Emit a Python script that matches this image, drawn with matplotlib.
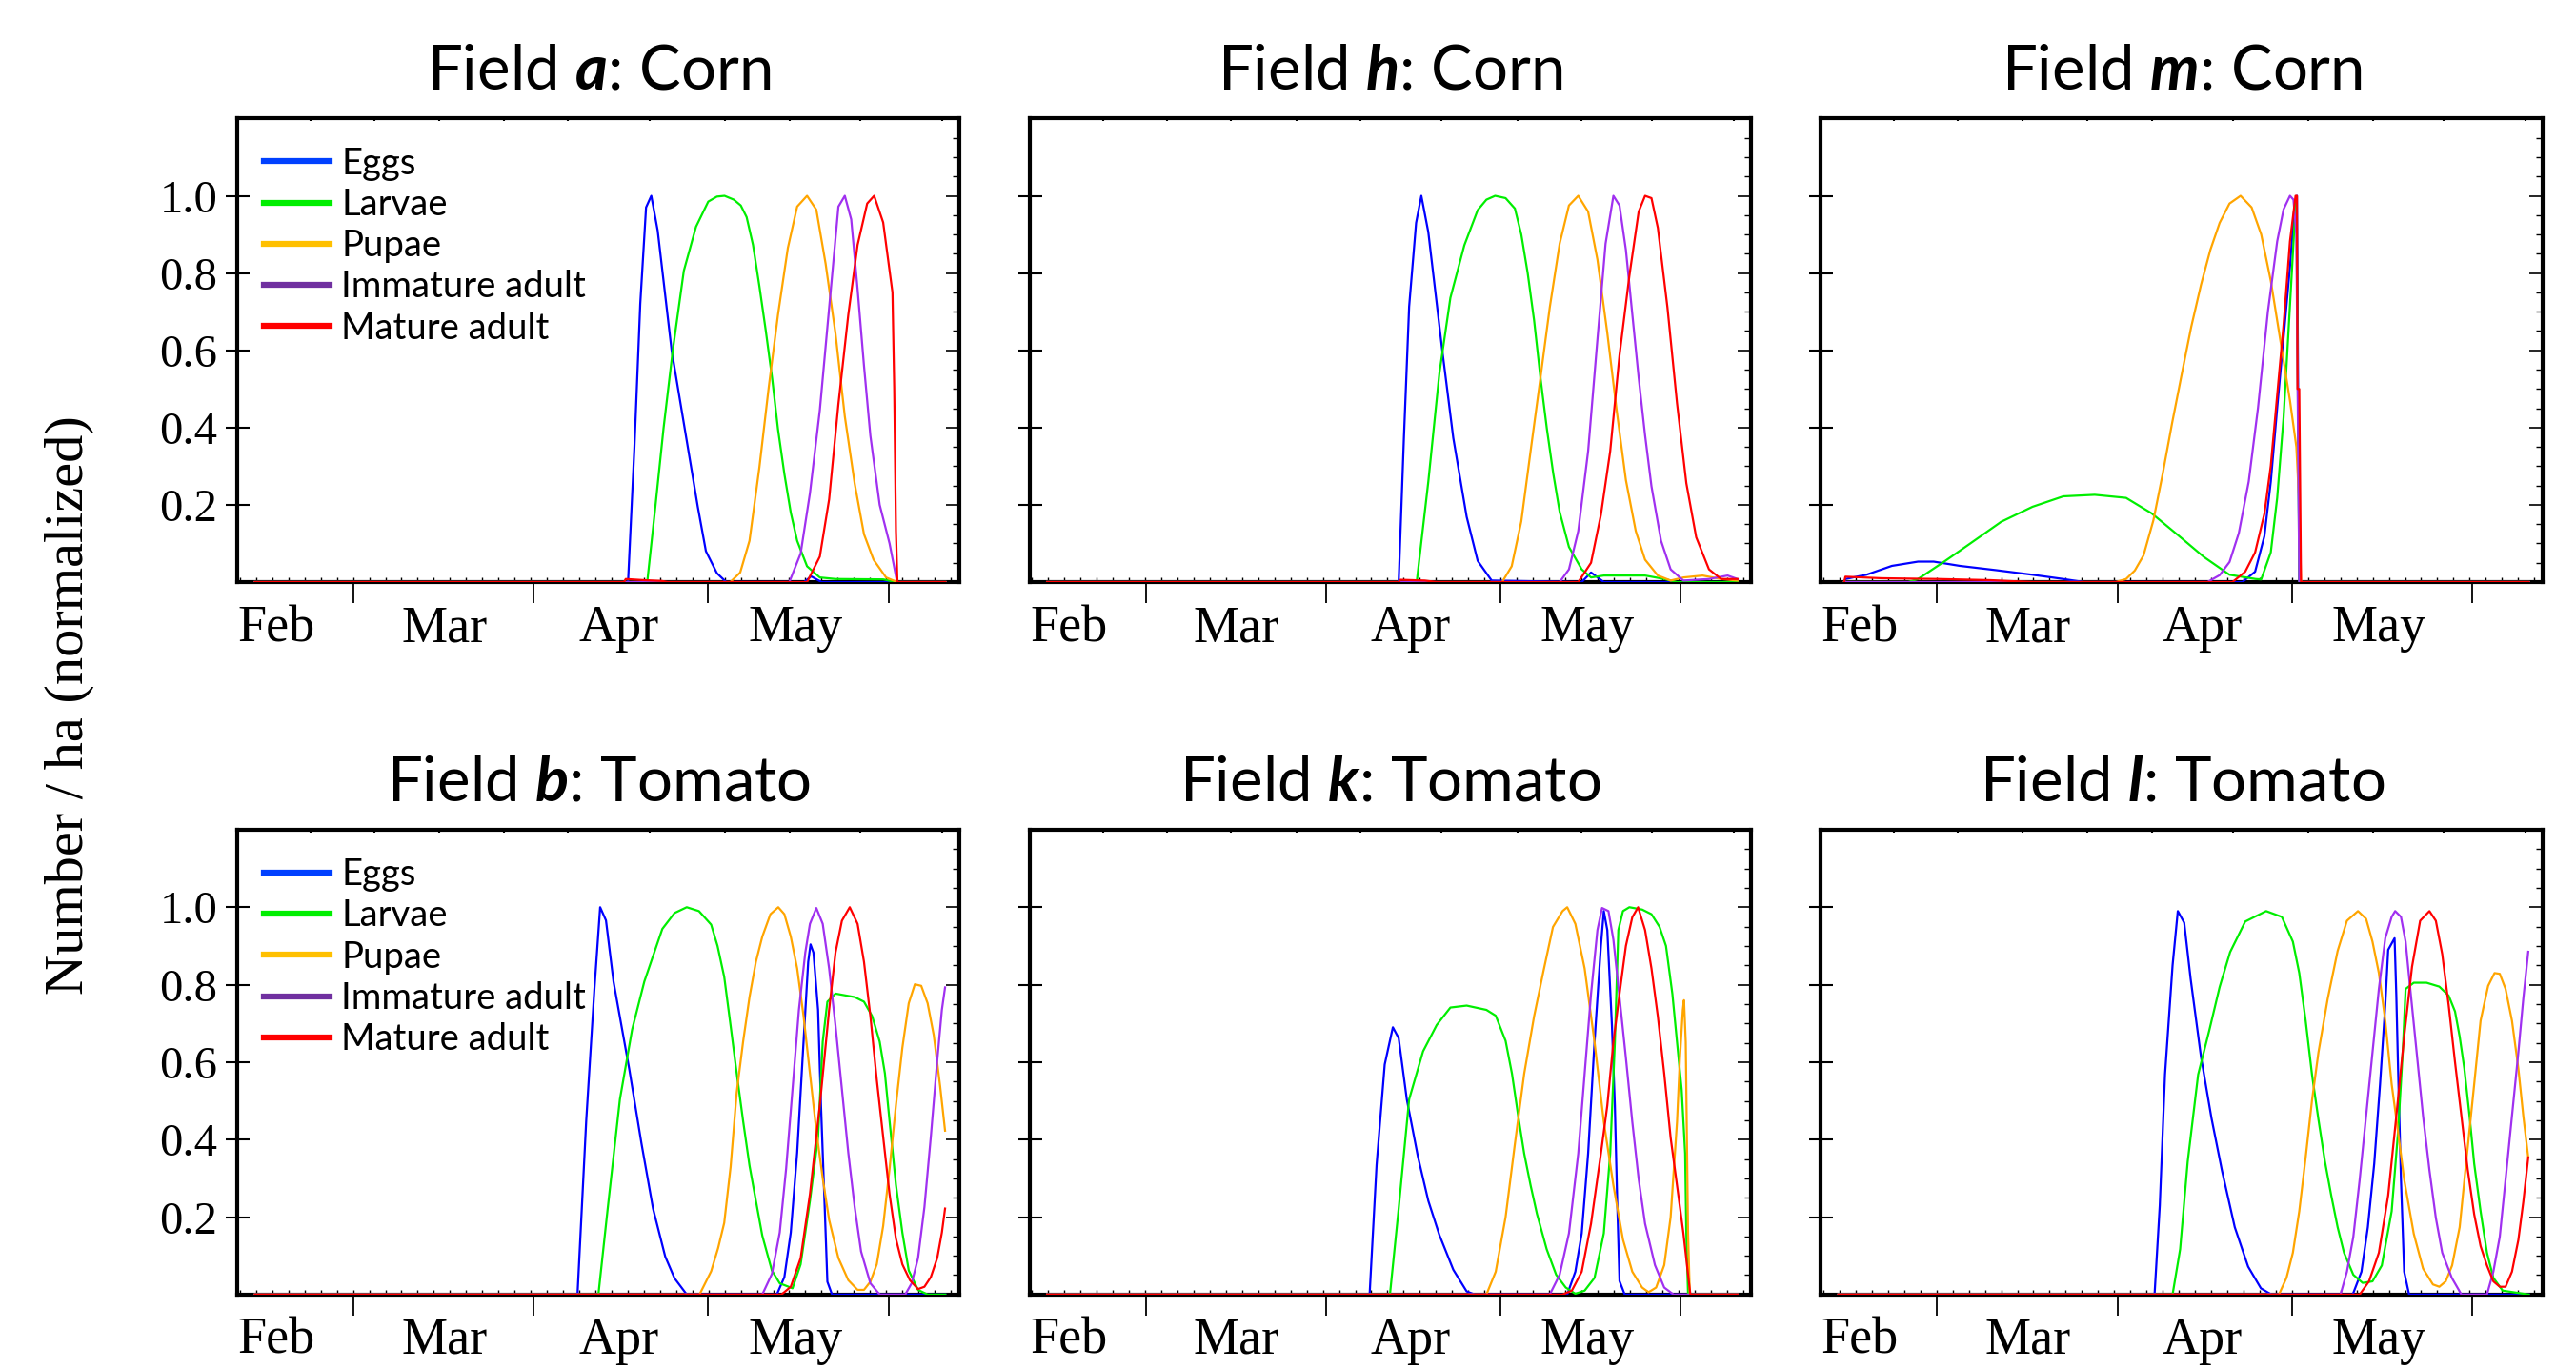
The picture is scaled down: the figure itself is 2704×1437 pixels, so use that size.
#! /usr/bin/env python3
import numpy as np
import matplotlib
matplotlib.use('Agg')
import matplotlib.pyplot as plt
from matplotlib.lines import Line2D
from matplotlib.ticker import MultipleLocator

plt.rcParams['font.family'] = 'Lato'
plt.rcParams['mathtext.fontset'] = 'custom'
plt.rcParams['mathtext.rm'] = 'Lato'
plt.rcParams['mathtext.bfit'] = 'Lato:italic:bold'

stages = ['Eggs', 'Larvae', 'Pupae', 'Immature adult', 'Mature adult']
lineColors = ['#0000ff', '#00ee00', '#ffa500', '#a030f0', '#ff0000']
legendColors = ['#0040ff', '#00ee00', '#ffc000', '#7030a0', '#ff0000']

# x axis in day of year
months = ['Feb', 'Mar', 'Apr', 'May']
monthMidDays = [46.7, 75.6, 105.6, 136.0]
monthStartDays = [60, 91, 121, 152]
topDotDays = [52.6, 63.6, 74.7, 85.9, 96.9, 110.9, 123.9, 135.0, 147.1, 161.2]
yTicks = [0.2, 0.4, 0.6, 0.8, 1.0]

#############################################
## Field a: Corn  (day, normalized number/ha)
A_EGGS = [(43,0),(107.2,0),(108.3,0.35),(109.3,0.72),(110.3,0.97),(111.2,1.0),(112.3,0.91),(114.7,0.6),
          (117.2,0.375),(119.2,0.195),(120.6,0.08),(122.5,0.023),(124.1,0),(137.5,0),(138.7,0.015),(140.5,0),(161.8,0)]
A_LARVAE = [(43,0),(110.5,0),(111.9,0.195),(113.3,0.397),(114.9,0.6),(116.8,0.806),(118.9,0.92),(121,0.985),(122.5,0.998),
            (123.8,1.0),(125.4,0.99),(126.6,0.975),(127.6,0.945),(128.7,0.873),(129.8,0.766),(130.9,0.651),(132,0.527),
            (133,0.396),(134.1,0.28),(135.2,0.18),(136.3,0.107),(138,0.041),(140.2,0.012),(142.9,0.008),(151.1,0.007),
            (153.3,0),(161.8,0)]
A_PUPAE = [(43,0),(124.8,0),(126.5,0.025),(128.1,0.107),(129.8,0.297),(131.4,0.503),(133,0.692),(134.7,0.865),(136.3,0.972),
           (138,1.0),(139.6,0.964),(141.2,0.824),(142.9,0.643),(144.5,0.429),(146.2,0.255),(147.8,0.124),(149.45,0.058),
           (151.6,0.012),(153.5,0),(161.8,0)]
A_IMMATURE = [(43,0),(134.95,0),(136.9,0.074),(138.5,0.23),(140.2,0.445),(141.8,0.709),(143.4,0.972),(144.5,1.0),(145.6,0.939),
              (146.7,0.758),(147.8,0.56),(148.9,0.379),(150.5,0.2),(152.2,0.1),(153.5,0),(161.8,0)]
A_MATURE = [(43,0),(106.5,0),(106.8,0.008),(110,0.005),(113,0.003),(114,0),(138,0),(140.2,0.066),(141.8,0.214),(143.4,0.461),
            (145.1,0.692),(146.7,0.873),(148.35,0.98),(149.55,1.0),(151.1,0.931),(152.7,0.75),(153.0,0.503),(153.3,0.132),
            (153.55,0),(161.8,0)]

## Field h: Corn
H_EGGS = [(43,0),(103.5,0),(104.4,0.373),(105.3,0.713),(106.5,0.93),(107.4,1.0),(108.6,0.906),(111.0,0.6),(112.9,0.373),
          (115.2,0.169),(117.1,0.055),(119.5,0.004),(135,0),(136.6,0.025),(138.8,0),(161.8,0)]
H_LARVAE = [(43,0),(106.6,0),(108.6,0.26),(110.5,0.54),(112.4,0.736),(114.8,0.872),(117.1,0.963),(118.6,0.99),(120.1,1.0),
            (121.9,0.994),(123.5,0.967),(124.6,0.9),(125.7,0.8),(126.8,0.678),(127.9,0.529),(129,0.397),(130.1,0.281),
            (131.2,0.182),(132.8,0.091),(135,0.033),(136.6,0.012),(138.8,0.017),(145.9,0.017),(149.2,0.008),(151.4,0),(161.8,0)]
H_PUPAE = [(43,0),(121.3,0),(122.95,0.041),(124.6,0.157),(126.2,0.339),(127.9,0.529),(129.5,0.711),(131.2,0.876),(132.8,0.975),
           (134.4,1.0),(136.1,0.959),(137.7,0.835),(139.4,0.645),(141,0.446),(142.6,0.264),(144.3,0.132),(145.9,0.058),
           (148.1,0.017),(150.3,0.004),(152.5,0.012),(155.8,0.017),(159,0.008),(161.8,0.004)]
H_IMMATURE = [(43,0),(131.2,0),(132.8,0.033),(134.4,0.132),(136.1,0.339),(137.7,0.628),(139.1,0.876),(140.45,1.0),(141.5,0.975),
              (142.6,0.86),(143.7,0.694),(144.8,0.529),(145.9,0.38),(147,0.248),(148.65,0.107),(150.3,0.033),(152.5,0.004),
              (156.9,0.008),(160.1,0.017),(161.8,0.008)]
H_MATURE = [(43,0),(103.5,0),(103.8,0.006),(108,0.004),(110,0),(134.4,0),(136.6,0.05),(138.3,0.174),(139.9,0.339),(141.5,0.587),
            (143.2,0.793),(144.8,0.959),(145.9,1.0),(147,0.994),(148.1,0.917),(149.75,0.711),(151.4,0.463),(153,0.256),
            (154.7,0.116),(156.9,0.033),(159,0.008),(161.8,0.008)]

## Field m: Corn
M_EGGS = [(44,0),(44.2,0.008),(47.8,0.019),(52.2,0.042),(56.7,0.053),(59.4,0.053),(63.9,0.042),(70.1,0.031),(76.4,0.019),
          (81.7,0.008),(85.3,0),(112.5,0),(114.7,0.027),(116.3,0.119),(117.4,0.26),(118.5,0.451),(119.6,0.633),(120.7,0.816),
          (121.5,0.98),(121.9,1.0),(122.3,0),(161.8,0)]
M_LARVAE = [(44,0),(55,0),(56.7,0.008),(61.2,0.053),(65.6,0.099),(71,0.156),(76.4,0.195),(81.7,0.222),(87.1,0.226),(92.5,0.218),
            (96.9,0.178),(101.4,0.122),(105.9,0.065),(110.3,0.019),(114.8,0.008),(115.75,0.007),(117.4,0.077),(118.5,0.218),
            (119.6,0.426),(120.7,0.716),(121.5,0.932),(121.8,0.997),(122.3,0),(161.8,0)]
M_PUPAE = [(44,0),(90.7,0),(92.5,0.008),(94,0.03),(95.5,0.069),(97.2,0.16),(98.8,0.28),(100.4,0.41),(102.1,0.54),(103.7,0.66),
           (105.4,0.77),(107,0.86),(108.6,0.93),(110.3,0.98),(112.2,1.0),(114.1,0.97),(115.75,0.9),(117.4,0.78),(119,0.63),
           (120.7,0.47),(121.8,0.35),(122.3,0.2),(122.6,0),(161.8,0)]
M_IMMATURE = [(44,0),(106.5,0),(108.6,0.018),(110.3,0.052),(111.9,0.127),(113.6,0.26),(115.2,0.451),(116.9,0.7),(118.5,0.882),
              (119.6,0.965),(120.7,1.0),(121.3,0.99),(121.8,0.9),(122.3,0),(161.8,0)]
M_MATURE = [(44,0),(44.2,0.014),(50.4,0.01),(60.2,0.008),(69.2,0.005),(76.4,0),(110.8,0),(113,0.027),(114.7,0.077),(116.3,0.177),
            (117.4,0.301),(118.5,0.484),(119.6,0.666),(120.7,0.882),(121.66,1.0),(121.9,1.0),(122.0,0.5),(122.3,0.5),
            (122.6,0),(161.8,0)]

## Field b: Tomato
B_EGGS = [(43,0),(98.5,0),(100,0.448),(101.4,0.786),(102.4,1.0),(103.4,0.966),(104.7,0.808),(107.4,0.583),(109.5,0.391),
          (111.5,0.222),(113.6,0.098),(115.2,0.042),(117.3,0),(132.8,0),(134.1,0.045),(135.2,0.16),(136.3,0.366),(137.4,0.653),
          (138.2,0.859),(138.6,0.904),(139.1,0.883),(139.9,0.735),(140.4,0.489),(141,0.242),(141.5,0.033),(142.3,0),(161.8,0)]
B_LARVAE = [(43,0),(102.1,0),(103.7,0.222),(105.8,0.504),(107.9,0.684),(110,0.808),(113.1,0.944),(115.2,0.985),(117.3,1.0),
            (119.4,0.99),(121.5,0.955),(122.6,0.9),(123.75,0.82),(124.85,0.694),(125.9,0.571),(127,0.448),(128.1,0.333),
            (129.2,0.242),(130.3,0.152),(131.95,0.062),(133.3,0.029),(135.5,0.016),(136.9,0.078),(138.5,0.242),(139.9,0.407),
            (140.7,0.653),(141.5,0.756),(142.9,0.777),(146.2,0.768),(147.8,0.756),(149.2,0.719),(150.5,0.653),(151.4,0.571),
            (152.2,0.448),(153.3,0.283),(154.4,0.16),(155.5,0.062),(157.1,0.012),(158.75,0),(161.8,0)]
B_PUPAE = [(43,0),(119.5,0),(121.5,0.06),(122.7,0.12),(123.75,0.185),(124.85,0.33),(125.9,0.522),(127,0.653),(128.1,0.768),
           (129.2,0.859),(130.3,0.924),(131.7,0.982),(133.05,1.0),(134.1,0.982),(135.2,0.924),(136.3,0.842),(137.4,0.719),
           (138.5,0.571),(139.6,0.423),(140.7,0.3),(141.8,0.193),(143.4,0.094),(145.1,0.037),(146.7,0.012),(147.8,0.012),
           (148.9,0.033),(150,0.078),(151.1,0.177),(152.2,0.325),(153.3,0.489),(154.4,0.637),(155.5,0.752),(156.55,0.801),
           (157.65,0.797),(158.75,0.752),(159.8,0.67),(160.9,0.538),(161.75,0.423)]
B_IMMATURE = [(43,0),(130.3,0),(131.95,0.053),(133.3,0.16),(134.4,0.325),(135.5,0.53),(136.6,0.735),(137.7,0.883),(138.5,0.957),
              (139.6,0.998),(140.7,0.957),(141.8,0.842),(142.9,0.694),(144,0.53),(145.1,0.366),(146.2,0.226),(147.3,0.111),
              (148.9,0.029),(150.5,0),(154.9,0),(156,0.029),(157.1,0.094),(158.2,0.226),(159.3,0.407),(160.4,0.604),
              (161.2,0.735),(161.75,0.793)]
B_MATURE = [(43,0),(133.6,0),(135.2,0.02),(136.9,0.094),(138.5,0.259),(140.2,0.489),(141.8,0.735),(142.9,0.883),(144,0.965),
            (145.35,1.0),(146.7,0.957),(147.8,0.859),(148.9,0.719),(150,0.555),(151.1,0.407),(152.2,0.259),(153.3,0.144),
            (154.4,0.078),(155.7,0.037),(157.1,0.014),(158.2,0.02),(159.3,0.045),(160.4,0.094),(161.2,0.16),(161.75,0.222)]

## Field k: Tomato
K_EGGS = [(43,0),(98.5,0),(99.7,0.335),(101.1,0.594),(102.5,0.69),(103.5,0.662),(104.9,0.504),(106.8,0.357),(108.6,0.242),
          (110.5,0.154),(112.9,0.064),(115.2,0.008),(116.6,0),(132.5,0),(133.9,0.059),(135,0.158),(136.1,0.364),(137.2,0.652),
          (138.3,0.9),(138.8,0.99),(139.4,0.941),(140.2,0.694),(140.7,0.488),(141.1,0.241),(141.5,0.035),(142.4,0),(161.8,0)]
K_LARVAE = [(43,0),(102,0),(103.5,0.222),(105.3,0.504),(107.7,0.628),(110.05,0.696),(112.4,0.741),(115.2,0.746),(118.6,0.735),
            (120.2,0.72),(121.9,0.655),(123,0.57),(124.05,0.463),(125.1,0.364),(126.2,0.282),(127.3,0.208),(128.97,0.117),
            (130.6,0.051),(132.25,0.018),(133.9,0.002),(135.5,0.01),(137.2,0.043),(138.8,0.158),(139.9,0.364),(140.7,0.652),
            (141.3,0.941),(142.1,0.99),(143.2,1.0),(145.4,0.994),(147,0.982),(148.4,0.949),(149.5,0.9),(150.6,0.776),
            (151.4,0.652),(152.2,0.529),(152.8,0.364),(153.0,0.158),(153.3,0),(161.8,0)]
K_PUPAE = [(43,0),(118.6,0),(120.2,0.059),(121.9,0.2),(123.5,0.389),(125.1,0.57),(126.8,0.718),(128.4,0.834),(130.05,0.949),
           (131.7,0.99),(132.5,1.0),(133.9,0.957),(135.5,0.842),(137.2,0.652),(138.8,0.446),(140.45,0.282),(142.1,0.142),
           (143.7,0.059),(145.4,0.018),(146.5,0.006),(147.8,0.018),(149.2,0.076),(150.3,0.2),(151.4,0.446),(151.9,0.611),
           (152.4,0.735),(152.6,0.76),(152.9,0.652),(153.3,0.158),(153.6,0),(161.8,0)]
K_IMMATURE = [(43,0),(129.5,0),(131.2,0.051),(132.8,0.158),(134.4,0.364),(135.5,0.57),(136.6,0.776),(137.7,0.941),(138.5,0.998),
              (139.6,0.99),(140.45,0.916),(141.5,0.768),(142.6,0.611),(143.7,0.446),(144.8,0.298),(145.9,0.183),(147.6,0.076),
              (149.2,0.018),(150.8,0),(161.8,0)]
K_MATURE = [(43,0),(131.7,0),(133.3,0.01),(135,0.059),(136.6,0.183),(138.3,0.364),(139.4,0.488),(140.45,0.652),(141.5,0.776),
            (142.6,0.9),(143.7,0.974),(144.7,1.0),(145.9,0.941),(147,0.842),(148.1,0.718),(149.2,0.57),(150.3,0.405),
            (151.4,0.282),(152.5,0.158),(153.3,0.051),(153.7,0),(161.8,0)]

## Field l: Tomato
L_EGGS = [(43,0),(97.4,0),(98.3,0.23),(99.2,0.568),(100.5,0.85),(101.4,0.99),(102.5,0.96),(103.6,0.816),(105.4,0.613),
          (107.2,0.455),(109,0.32),(111.2,0.174),(113.5,0.072),(115.7,0.016),(117.5,0),(131.5,0),(133,0.059),(134.1,0.174),
          (135.2,0.338),(136.2,0.543),(137.1,0.748),(137.6,0.89),(138.7,0.92),(139,0.772),(139.3,0.584),(139.8,0.297),
          (140.35,0.059),(141.2,0),(161.8,0)]
L_LARVAE = [(43,0),(100.5,0),(101.8,0.117),(103.1,0.343),(104.9,0.568),(106.8,0.681),(108.6,0.794),(110.4,0.884),(113,0.963),
            (116.6,0.99),(119.3,0.975),(121.2,0.911),(122.3,0.83),(123.4,0.707),(124.5,0.567),(125.6,0.452),(126.7,0.345),
            (127.8,0.256),(128.9,0.174),(130,0.108),(131.6,0.051),(133.2,0.03),(134.9,0.034),(136.5,0.075),(138.2,0.215),
            (139.3,0.42),(140.1,0.625),(140.6,0.789),(142,0.805),(144.2,0.805),(146.4,0.795),(148,0.772),(149.1,0.731),
            (149.9,0.666),(150.7,0.584),(151.6,0.461),(152.4,0.338),(153.5,0.215),(154.6,0.108),(155.7,0.043),(157.3,0.01),
            (161.8,0)]
L_PUPAE = [(43,0),(118.8,0),(120.1,0.043),(121.2,0.108),(122.3,0.215),(123.4,0.354),(124.5,0.502),(125.6,0.625),(127.2,0.764),
           (128.9,0.887),(130.5,0.965),(132.4,0.99),(133.8,0.97),(134.9,0.911),(136,0.83),(137.1,0.707),(138.2,0.543),
           (139.3,0.42),(140.35,0.297),(142,0.157),(143.6,0.067),(145.3,0.026),(146.4,0.02),(147.5,0.034),(148.6,0.075),
           (149.9,0.174),(151,0.338),(152.4,0.543),(153.5,0.707),(154.8,0.797),(155.9,0.83),(156.8,0.828),(157.8,0.789),
           (158.9,0.707),(160,0.584),(160.85,0.461),(161.7,0.354)]
L_IMMATURE = [(43,0),(129.4,0),(130.5,0.059),(131.6,0.149),(132.7,0.297),(133.8,0.461),(134.9,0.625),(136,0.789),(137.1,0.92),
              (138.2,0.975),(138.8,0.99),(139.8,0.975),(140.6,0.911),(141.4,0.789),(142.5,0.625),(143.6,0.461),(144.7,0.321),
              (145.8,0.198),(146.9,0.108),(148.55,0.043),(150.2,0),(154.6,0),(155.7,0.059),(156.8,0.149),(157.8,0.297),
              (158.9,0.461),(160,0.625),(160.85,0.764),(161.7,0.885)]
L_MATURE = [(43,0),(132.7,0),(134.3,0.034),(136,0.108),(137.6,0.256),(139,0.461),(140.35,0.666),(141.7,0.846),(143.1,0.965),
            (144.7,0.99),(145.8,0.965),(146.9,0.879),(148,0.748),(149.1,0.6),(150.2,0.461),(151.3,0.321),(152.4,0.207),
            (153.5,0.125),(154.6,0.075),(155.7,0.034),(156.8,0.02),(157.8,0.02),(158.9,0.059),(160,0.141),(160.85,0.239),
            (161.7,0.354)]

panels = [
    ('a', 'Corn',   [A_EGGS, A_LARVAE, A_PUPAE, A_IMMATURE, A_MATURE]),
    ('h', 'Corn',   [H_EGGS, H_LARVAE, H_PUPAE, H_IMMATURE, H_MATURE]),
    ('m', 'Corn',   [M_EGGS, M_LARVAE, M_PUPAE, M_IMMATURE, M_MATURE]),
    ('b', 'Tomato', [B_EGGS, B_LARVAE, B_PUPAE, B_IMMATURE, B_MATURE]),
    ('k', 'Tomato', [K_EGGS, K_LARVAE, K_PUPAE, K_IMMATURE, K_MATURE]),
    ('l', 'Tomato', [L_EGGS, L_LARVAE, L_PUPAE, L_IMMATURE, L_MATURE]),
]

fig = plt.figure(figsize=(27.04, 14.37), dpi=100)
lefts = [0.0922, 0.3997, 0.7069]
bottoms = [0.5748, 0.0544]
heights = [0.3386, 0.3395]

for i, (letter, crop, curves) in enumerate(panels):
    row, col = divmod(i, 3)
    ax = fig.add_axes([lefts[col], bottoms[row], 0.2802, heights[row]])

    for pts, c in zip(curves, lineColors):
        x, y = zip(*pts)
        ax.plot(x, y, color=c, linewidth=1.6, zorder=3)

    ax.set_xlim(40, 164.2)
    ax.set_ylim(0, 1.2)
    for sp in ax.spines.values():
        sp.set_linewidth(3)

    # x: month boundaries below, small ticks inside
    ax.set_xticks(monthStartDays)
    ax.tick_params(axis='x', which='major', direction='out', length=16, width=1.3, labelbottom=False)
    ax.xaxis.set_minor_locator(MultipleLocator(2.78, offset=1.5))
    ax.tick_params(axis='x', which='minor', direction='in', length=3.5, width=1)
    for d, m in zip(monthMidDays, months):
        ax.annotate(m, xy=(d, 0), xycoords=('data', 'axes fraction'), xytext=(0, -17),
                    textcoords='offset points', ha='center', va='top', fontsize=39,
                    family='Liberation Serif')

    # y: left ticks cross the spine
    ax.set_yticks(yTicks)
    ax.set_yticklabels(['%.1f' % v for v in yTicks])
    ax.tick_params(axis='y', which='major', direction='inout', length=18, width=1.5,
                   labelsize=35, pad=6, labelleft=(col == 0))
    for lbl in ax.get_yticklabels():
        lbl.set_fontfamily('Liberation Serif')

    sy = ax.secondary_yaxis('right')
    sy.set_yticks(yTicks)
    sy.set_yticks(np.arange(0.05, 1.16, 0.05), minor=True)
    sy.tick_params(which='major', direction='in', length=10, width=1.2, labelright=False)
    sy.tick_params(which='minor', direction='in', length=5, width=1)
    sy.spines['right'].set_visible(False)

    sx = ax.secondary_xaxis('top')
    sx.set_xticks(topDotDays)
    sx.tick_params(direction='in', length=2.5, width=1.5, labeltop=False)
    sx.spines['top'].set_visible(False)

    ax.set_title('Field $\\mathbfit{%s}$: %s' % (letter, crop), fontsize=47, pad=22)

    if col == 0:
        handles = [Line2D([], [], color=c, linewidth=4.5) for c in legendColors]
        ax.legend(handles, stages, loc='upper left', bbox_to_anchor=(0.037, 0.94), frameon=False,
                  fontsize=27.5, handlelength=1.8, handletextpad=0.32, labelspacing=0.19,
                  borderpad=0, borderaxespad=0)

fig.text(0.027, 0.485, 'Number / ha (normalized)', rotation=90, ha='center', va='center',
         fontsize=42, family='Liberation Serif')

fig.savefig('out.png', dpi=100)
